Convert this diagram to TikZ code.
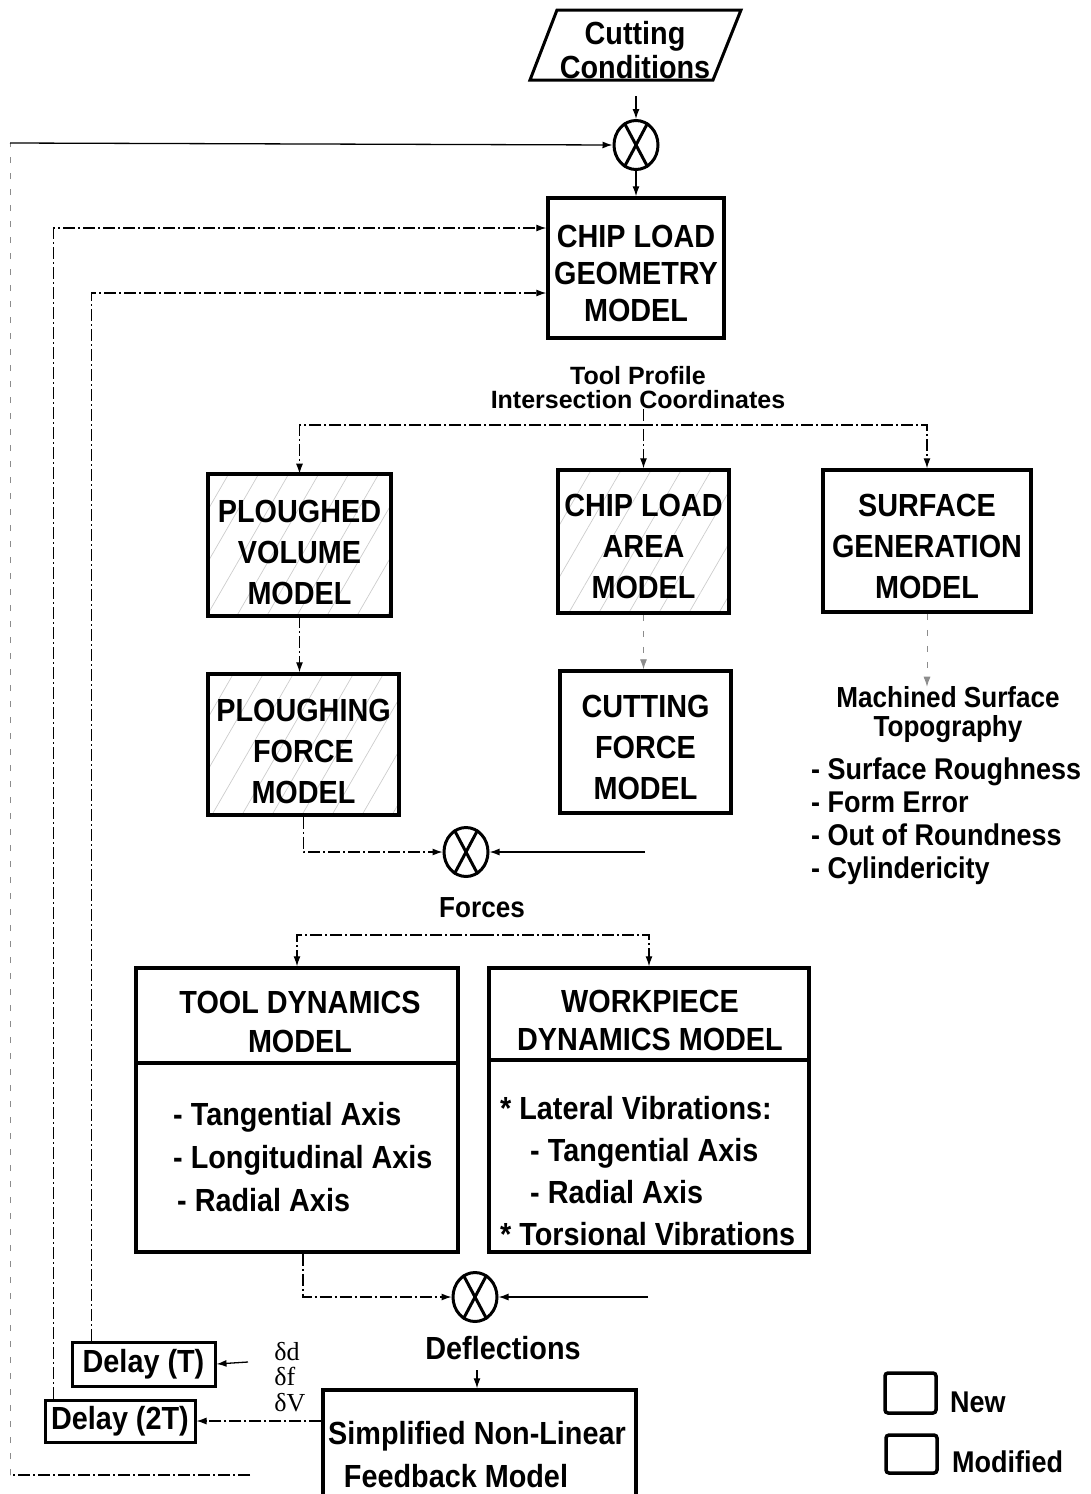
\documentclass[tikz,border=0pt]{standalone}
\usepackage{fontspec}
\setmainfont{Liberation Sans}[FakeStretch=0.9]
\newfontfamily\seriff{Liberation Serif}
\newfontfamily\widesans{Liberation Sans}
\usetikzlibrary{arrows.meta,shapes.geometric,patterns.meta}
\newcommand\boxtxt[2][8pt]{\raisebox{-#1}[\height][\depth]{\begin{tabular}{@{}c@{}}#2\end{tabular}}}
\begin{document}
\begin{tikzpicture}[x=1pt,y=1pt,
  every node/.style={font={\bfseries\fontsize{32}{41}\selectfont}, inner sep=0pt},
  box/.style={draw, line width=3.5pt},
  hatch/.style={pattern={Lines[angle=60,distance=26pt,line width=0.7pt]}, pattern color=black!20},
  conn/.style={line width=1.3pt},
  dconn/.style={line width=1.1pt, dash pattern=on 12pt off 3pt on 2pt off 3pt},
  faint/.style={line width=0.9pt, black!45, dash pattern=on 6pt off 10pt},
  arr/.style={-{Latex[length=10pt,width=7pt]}},
  sumj/.style={draw, ellipse, line width=3pt, minimum width=44pt, minimum height=49pt},
  lbl/.style={align=center}
]
\useasboundingbox (0,0) rectangle (1090,-1494);

% Cutting conditions
\node[lbl, font={\bfseries\fontsize{32}{34}\selectfont}] (cc) at (635,-50) {Cutting\\Conditions};
\draw[line width=3pt] (530,-80) -- (557,-10) -- (741,-10) -- (713,-80) -- cycle;
\coordinate (ccout) at (636,-96);

% summing junctions
\node[sumj] (c1) at (636,-145) {};
\node[sumj] (c2) at (466,-852) {};
\node[sumj] (c3) at (475,-1297) {};
\foreach \c in {c1,c2,c3} \draw[line width=3pt] (\c.62) -- (\c.242) (\c.118) -- (\c.298);

% boxes
\node[box, minimum width=176pt, minimum height=140pt, font={\bfseries\fontsize{32}{37}\selectfont}] (cgm) at (636,-268) {\boxtxt[9pt]{CHIP LOAD\\GEOMETRY\\MODEL}};
\node[lbl, font={\widesans\bfseries\fontsize{25}{24}\selectfont}] (tpl) at (638,-388) {Tool Profile\\Intersection Coordinates};

\node[box, hatch, minimum width=183pt, minimum height=142pt] (pvm) at (299.5,-545) {\boxtxt[10pt]{PLOUGHED\\VOLUME\\MODEL}};
\node[box, hatch, minimum width=171pt, minimum height=143pt] (cla) at (643.5,-541.5) {\boxtxt{CHIP LOAD\\AREA\\MODEL}};
\node[box, minimum width=208pt, minimum height=142pt] (sgm) at (927,-541) {\boxtxt{SURFACE\\GENERATION\\MODEL}};
\node[box, hatch, minimum width=191pt, minimum height=141pt] (pfm) at (303.5,-744.5) {\boxtxt[10pt]{PLOUGHING\\FORCE\\MODEL}};
\node[box, minimum width=171pt, minimum height=142pt] (cfm) at (645.5,-742) {\boxtxt{CUTTING\\FORCE\\MODEL}};

\node[lbl, font={\bfseries\fontsize{29}{29}\selectfont}] (mst) at (948,-715) {Machined Surface\\Topography};
\node[align=left, anchor=west, font={\bfseries\fontsize{30}{33}\selectfont}] (msl) at (811,-821) {- Surface Roughness\\- Form Error\\- Out of Roundness\\- Cylindericity};

\node[font={\bfseries\fontsize{29}{29}\selectfont}] (forces) at (482,-908) {Forces};

\node[box, minimum width=322pt, minimum height=284pt] (td) at (297,-1110) {};
\draw[line width=3.5pt] (td.west |- 0,-1063) -- (td.east |- 0,-1063);
\node[lbl, font={\bfseries\fontsize{32}{39}\selectfont}] (tdt) at (300,-1022) {TOOL DYNAMICS\\MODEL};
\node[align=left, anchor=west, font={\bfseries\fontsize{32}{43}\selectfont}] (tdi) at (173,-1157) {- Tangential Axis\\- Longitudinal Axis\\\hspace*{4pt}- Radial Axis};

\node[box, minimum width=320pt, minimum height=284pt] (wd) at (649,-1110) {};
\draw[line width=3.5pt] (wd.west |- 0,-1060) -- (wd.east |- 0,-1060);
\node[lbl, font={\bfseries\fontsize{32}{38}\selectfont}] (wdt) at (650,-1020) {WORKPIECE\\DYNAMICS MODEL};
\node[align=left, anchor=west, font={\bfseries\fontsize{32}{42}\selectfont}] (wdi) at (500,-1171) {* Lateral Vibrations:\\\hspace*{30pt}- Tangential Axis\\\hspace*{30pt}- Radial Axis\\* Torsional Vibrations};

\node (defl) at (503,-1348) {Deflections};
\node[box, minimum width=313pt, minimum height=150pt] (sfm) at (479.5,-1465) {};
\node (sfm1) at (477,-1436) {Simplified Non-Linear};
\node (sfm2) at (456,-1476) {Feedback Model};

\node[box, line width=3pt, minimum width=143pt, minimum height=44pt] (d1) at (143.5,-1364) {Delay (T)};
\node[box, line width=3pt, minimum width=150pt, minimum height=42pt] (d2) at (120,-1421) {Delay (2T)};
\node[align=left, font={\seriff\fontsize{26}{25.5}\selectfont}] (dlt) at (290,-1377) {δd\\δf\\δV};

% legend
\node[draw, line width=3.5pt, rounded corners=3pt, minimum width=51pt, minimum height=40pt] (lnew) at (910.5,-1393) {};
\node[anchor=west, font={\bfseries\fontsize{30}{30}\selectfont}] (tnew) at (950,-1402) {New};
\node[draw, line width=3.5pt, rounded corners=3pt, minimum width=51pt, minimum height=38pt] (lmod) at (911.5,-1454) {};
\node[anchor=west, font={\bfseries\fontsize{30}{30}\selectfont}] (tmod) at (952,-1462) {Modified};

% connectors
\draw[conn,arr] (ccout) -- (c1.north);
\draw[conn,arr] (c1.south) -- (cgm.north);

\coordinate (fb) at (250,-1475);
\coordinate (fbc) at (10,-143);
\draw[dconn] (fb) -- (10,-1475);
\draw[faint] (10,-1475) -- (fbc);
\draw[conn,arr] (fbc) -- (c1.west);

\draw[dconn,arr] ([xshift=10pt]d2.north west) |- ([yshift=40pt]cgm.west);
\draw[dconn,arr] ([xshift=21pt]d1.north west) |- ([yshift=-25pt]cgm.west);

\coordinate (br1) at (641,-425);
\draw[dconn,arr] (br1) -| (pvm.north);
\draw[dconn,arr] (br1) -| (sgm.north);
\draw[dconn,arr] (tpl.south -| cla.north) -- (cla.north);

\draw[dconn,arr] (pvm.south) -- (pvm.south |- pfm.north);
\draw[faint,arr] (cla.south) -- (cla.south |- cfm.north);
\draw[faint,arr] (sgm.south) -- (sgm.south |- mst.north);

\draw[dconn,arr] (pfm.south) |- (c2.west);
\coordinate (cfin) at (645,-852);
\draw[conn,arr] (cfin) -- (c2.east);

\coordinate (br2) at (482,-935);
\draw[dconn,arr] (br2) -| (td.north);
\draw[dconn,arr] (br2) -| (wd.north);

\draw[dconn,arr] ([xshift=6pt]td.south) |- (c3.west);
\coordinate (wdin) at (648,-1297);
\draw[conn,arr] (wdin) -- (c3.east);

\coordinate (dfo) at (477,-1370);
\draw[dconn,arr] (dfo) -- (dfo |- sfm.north);
\coordinate (dtin) at (248,-1362);
\draw[conn,arr] (dtin) -- (d1.east);
\draw[dconn,arr] (sfm.west |- d2.east) -- (d2.east);
\end{tikzpicture}
\end{document}
